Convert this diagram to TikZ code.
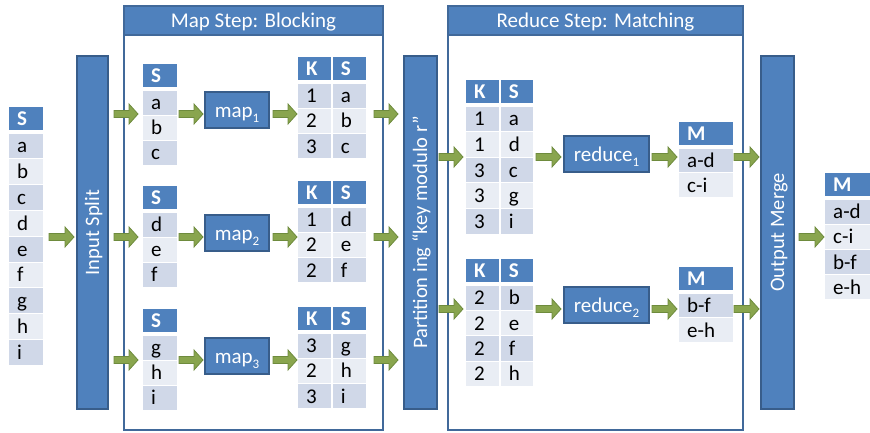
\documentclass[tikz,border=0pt]{standalone}
\usepackage{fontspec}
\setmainfont{Carlito}
\definecolor{hd}{HTML}{4F81BD}
\definecolor{dk}{HTML}{D0D8E8}
\definecolor{lt}{HTML}{E9EDF4}
\definecolor{bd}{HTML}{385D8A}
\definecolor{fr}{HTML}{41699A}
\definecolor{arf}{HTML}{89A54E}
\definecolor{ard}{HTML}{6E8B3D}
\newcommand\sub[1]{\raisebox{-0.28em}{\fontsize{13}{13}\selectfont #1}}
\newcommand\cell[6]{\fill[fill=#5] (#1,#2) rectangle (#3,#4);
  \node[celltxt] at ({#1+8},{((#2)+(#4))/2+7}) {#6};}
\newcommand\hcell[5]{\fill[fill=hd] (#1,#2) rectangle (#3,#4);
  \node[hdtxt] at ({#1+8},{((#2)+(#4))/2+7}) {#5};}
\newcommand\onecol[6]{%
  \hcell{#1}{#3}{#2}{#3+23}{#5}
  \foreach \t/\c [count=\i from 0] in {#6}{%
    \cell{#1}{#3+26.5+\i*#4}{#2}{#3+26.5+\i*#4+#4-1}{\c}{\t}}}
\newcommand\twocol[6]{%
  \hcell{#1}{#4}{#2-0.75}{#4+23}{K}
  \hcell{#2+0.75}{#4}{#3}{#4+23}{S}
  \foreach \k/\s/\c [count=\i from 0] in {#6}{%
    \cell{#1}{#4+26.5+\i*#5}{#2-0.75}{#4+26.5+\i*#5+#5-1}{\c}{\k}
    \cell{#2+0.75}{#4+26.5+\i*#5}{#3}{#4+26.5+\i*#5+#5-1}{\c}{\s}}}
\newcommand\barr[3]{\draw[arr] (#1,#3-3.5) -- ({#2-9},#3-3.5) -- ({#2-9},#3-10) -- (#2,#3) -- ({#2-9},#3+10) -- ({#2-9},#3+3.5) -- (#1,#3+3.5) -- cycle;}
\begin{document}
\begin{tikzpicture}[x=1pt,y=-1pt,
  celltxt/.style={anchor=base west, inner sep=0pt, font=\fontsize{21}{24}\selectfont, text=black},
  hdtxt/.style={celltxt, text=white, font=\fontsize{21}{24}\selectfont\bfseries},
  procbox/.style={draw=bd, line width=2pt, fill=hd, text=white, inner sep=0pt,
    font=\fontsize{21}{24}\selectfont, text height=14pt, text depth=0pt},
  bar/.style={draw=bd, line width=2pt, fill=hd, inner sep=0pt},
  bartxt/.style={text=white, inner sep=0pt, rotate=90,
    font=\fontsize{20.5}{24}\selectfont, text height=13pt, text depth=0pt},
  frame/.style={draw=fr, line width=2pt},
  frtxt/.style={text=white, inner sep=0pt, font=\fontsize{21}{24}\selectfont, text height=13pt, text depth=0pt},
  arr/.style={fill=arf, draw=ard, line width=0.8pt, line join=miter}]
\useasboundingbox (0,0) rectangle (870,432);
% frames
\draw[frame] (124,6) rectangle (383,430);
\draw[frame, fill=hd] (124,6) rectangle (383,35);
\node[frtxt] (maptitle) at (253.5,20.5) {Map Step: Blocking};
\draw[frame] (448,6) rectangle (743,430);
\draw[frame, fill=hd] (448,6) rectangle (743,35);
\node[frtxt] (redtitle) at (595.5,20.5) {Reduce Step: Matching};
% bars
\node[bar, minimum width=31pt, minimum height=353pt] (split) at (92.5,232.5) {};
\node[bartxt] (splittxt) at (split.center) {Input Split};
\node[bar, minimum width=33pt, minimum height=353pt] (part) at (420.5,232.5) {};
\node[bartxt] (parttxt) at (part.center) {Partition ing “key modulo r”};
\node[bar, minimum width=33pt, minimum height=353pt] (merge) at (777.5,232.5) {};
\node[bartxt] (mergetxt) at (merge.center) {Output Merge};
% tables
\onecol{9}{43}{107}{25.8}{S}{a/dk,b/lt,c/dk,d/lt,e/dk,f/lt,g/dk,h/lt,i/dk}
\onecol{143}{177}{64}{25}{S}{a/dk,b/lt,c/dk}
\onecol{143}{177}{186}{25}{S}{d/dk,e/lt,f/dk}
\onecol{143}{177}{309}{25}{S}{g/dk,h/lt,i/dk}
\twocol{298}{332}{366}{57}{25.3}{1/a/dk,2/b/lt,3/c/dk}
\twocol{298}{332}{366}{181}{25.3}{1/d/dk,2/e/lt,2/f/dk}
\twocol{298}{332}{366}{307}{25.3}{3/g/dk,2/h/lt,3/i/dk}
\twocol{466}{500}{533}{80}{25.6}{1/a/dk,1/d/lt,3/c/dk,3/g/lt,3/i/dk}
\twocol{466}{500}{533}{259}{25.4}{2/b/dk,2/e/lt,2/f/dk,2/h/lt}
\onecol{679}{733}{122}{24.8}{M}{a-d/dk,c-i/lt}
\onecol{679}{733}{267}{24.8}{M}{b-f/dk,e-h/lt}
\onecol{825}{870}{173}{25.2}{M}{a-d/dk,c-i/lt,b-f/dk,e-h/lt}
% process boxes
\node[procbox, minimum width=64pt, minimum height=36pt] (map1) at (237,110) {map\sub{1}};
\node[procbox, minimum width=64pt, minimum height=36pt] (map2) at (237,233) {map\sub{2}};
\node[procbox, minimum width=64pt, minimum height=36pt] (map3) at (237,356) {map\sub{3}};
\node[procbox, minimum width=85pt, minimum height=36pt] (red1) at (606.5,154) {reduce\sub{1}};
\node[procbox, minimum width=85pt, minimum height=36pt] (red2) at (606.5,305) {reduce\sub{2}};
% arrows
\barr{49}{74}{237}
\foreach \y in {114,237,360}{
  \barr{114}{138}{\y}
  \barr{179}{203}{\y}
  \barr{273}{297}{\y}
  \barr{374}{398}{\y}}
\foreach \y in {157,309}{
  \barr{439}{463}{\y}
  \barr{536}{561}{\y}
  \barr{652}{677}{\y}
  \barr{734}{759}{\y}}
\barr{799}{824}{237}
\end{tikzpicture}
\end{document}
